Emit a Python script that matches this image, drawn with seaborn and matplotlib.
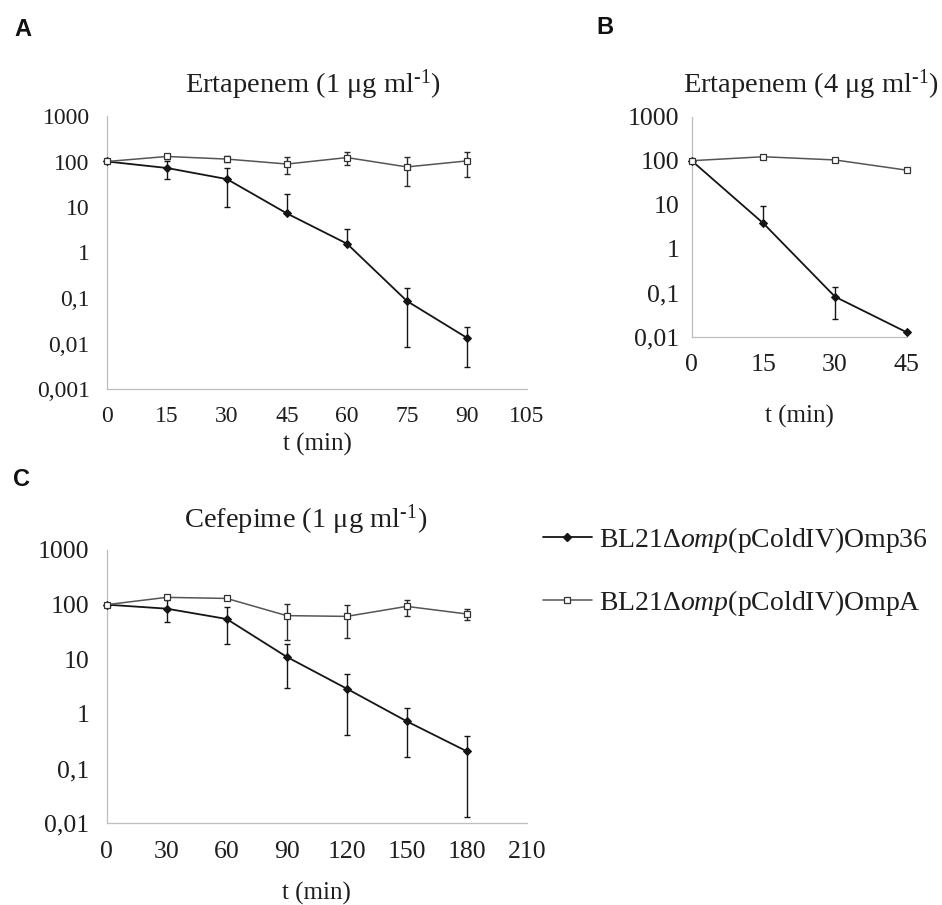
import numpy as np
import pandas as pd
import seaborn as sns
import matplotlib.pyplot as plt
from matplotlib.lines import Line2D
from matplotlib.ticker import NullLocator, FixedLocator, FixedFormatter

# ---- data: survival (%) over time, mean and standard deviation ----
t_a = [0, 15, 30, 45, 60, 75, 90]
a_omp36 = [100, 72, 41, 7.2, 1.56, 0.0855, 0.0133]
a_omp36_sd = [0, 30, 31, 12, 1.8, 0.077, 0.0102]
a_ompa = [100, 129, 113, 88, 122, 76, 103]
a_ompa_sd = [0, 18, 17, 35, 37, 47, 57]

t_b = [0, 15, 30, 45]
b_omp36 = [100, 3.77, 0.081, 0.0126]
b_omp36_sd = [0, 5.5, 0.056, 0]
b_ompa = [100, 123, 104, 61]
b_ompa_sd = [0, 0, 0, 0]

t_c = [0, 30, 60, 90, 120, 150, 180]
c_omp36 = [100, 84.5, 54.7, 11.1, 2.91, 0.736, 0.208]
c_omp36_sd = [0, 37, 36, 8.1, 2.5, 0.57, 0.195]
c_ompa = [100, 136, 130, 63, 61, 93, 67.6]
c_ompa_sd = [0, 8, 6, 40, 36, 30, 15]

y_ticks = [0.001, 0.01, 0.1, 1, 10, 100, 1000]
y_tick_labels = ["0,001", "0,01", "0,1", "1", "10", "100", "1000"]

titles = [r"Ertapenem (1 μg ml$^{\text{-}1}$)", r"Ertapenem (4 μg ml$^{\text{-}1}$)",
          r"Cefepime (1 μg ml$^{\text{-}1}$)"]
xlabel = "t (min)"
legend_labels = ["BL21$\\mathit{Δomp}$(pColdIV)Omp36",
                 "BL21$\\mathit{Δomp}$(pColdIV)OmpA"]

# ---- style ----
sns.set_theme(style="white")
plt.rcParams["font.family"] = ["Liberation Serif", "DejaVu Serif"]
plt.rcParams["mathtext.fontset"] = "custom"
plt.rcParams["mathtext.rm"] = "Liberation Serif"
plt.rcParams["mathtext.it"] = "Liberation Serif:italic"
plt.rcParams["mathtext.bf"] = "Liberation Serif:bold"

TEXT = "#1e1e1e"
AXIS = "#bdbdbd"
C36 = "#151515"
CA = "#555555"

W, H = 942, 905
fig = plt.figure(figsize=(W / 100, H / 100), dpi=100)


def px_axes(x0, x1, y_top, y_bot):
    return fig.add_axes([x0 / W, 1 - y_bot / H, (x1 - x0) / W, (y_bot - y_top) / H])


def add_err(ax, t, m, s, color):
    t, m, s = np.asarray(t, float), np.asarray(m, float), np.asarray(s, float)
    has = s > 0
    low_ok = has & (m - s > 0)
    lo = np.where(low_ok, s, 0.0)
    ax.errorbar(t[has], m[has], yerr=[lo[has], s[has]], fmt="none",
                ecolor=color, elinewidth=1.0, capsize=0, zorder=2, clip_on=False)
    ax.plot(t[has], (m + s)[has], ls="none", marker="_", ms=5, mew=1.0,
            color=color, zorder=2, clip_on=False)
    ax.plot(t[low_ok], (m - s)[low_ok], ls="none", marker="_", ms=5, mew=1.0,
            color=color, zorder=2, clip_on=False)


def panel(ax, t, m36, s36, ma, sa, xmax, xstep, ymin, fs, pad):
    add_err(ax, t, m36, s36, C36)
    add_err(ax, t, ma, sa, "#2a2a2a")
    sns.lineplot(x=t, y=m36, ax=ax, color=C36, linewidth=1.3, marker="D",
                 markersize=3.6, markeredgecolor=C36, markerfacecolor=C36,
                 errorbar=None, clip_on=False, zorder=3)
    sns.lineplot(x=t, y=ma, ax=ax, color=CA, linewidth=1.1, marker="s",
                 markersize=4.6, markeredgecolor="#333333", markerfacecolor="white",
                 markeredgewidth=0.9, errorbar=None, clip_on=False, zorder=4)
    ax.set_yscale("log")
    ax.set_ylim(ymin, 1000)
    ax.set_xlim(0, xmax)
    ax.set_xticks(np.arange(0, xmax + 1, xstep))
    keep = [i for i, v in enumerate(y_ticks) if v >= ymin]
    ax.yaxis.set_major_locator(FixedLocator([y_ticks[i] for i in keep]))
    ax.yaxis.set_major_formatter(FixedFormatter([y_tick_labels[i] for i in keep]))
    ax.yaxis.set_minor_locator(NullLocator())
    ax.set_xlabel("")
    ax.set_ylabel("")
    for side in ("top", "right"):
        ax.spines[side].set_visible(False)
    for side in ("left", "bottom"):
        ax.spines[side].set_color(AXIS)
        ax.spines[side].set_linewidth(0.9)
    ax.tick_params(axis="both", which="major", direction="out", length=4.5,
                   width=0.9, color=AXIS, labelsize=fs, labelcolor=TEXT, pad=pad)
    ax.set_facecolor("none")


# Panel A
ax_a = px_axes(107, 527, 116, 389)
panel(ax_a, t_a, a_omp36, a_omp36_sd, a_ompa, a_ompa_sd, 105, 15, 0.001, 17, 8)
ax_a.set_xlabel(xlabel, fontsize=18, color=TEXT)
ax_a.xaxis.set_label_coords(0.5, (389 - 444) / 273)
ax_a.xaxis.label.set_va("center")

# Panel B
ax_b = px_axes(691.7, 906.7, 116.7, 336.7)
panel(ax_b, t_b, b_omp36, b_omp36_sd, b_ompa, b_ompa_sd, 45, 15, 0.01, 18.6, 4.5)
ax_b.tick_params(axis="x", pad=8)
ax_b.set_xlabel(xlabel, fontsize=18, color=TEXT)
ax_b.xaxis.set_label_coords(0.5, (336.7 - 416) / 220)
ax_b.xaxis.label.set_va("center")

# Panel C
ax_c = px_axes(106.7, 526.7, 550, 823.3)
panel(ax_c, t_c, c_omp36, c_omp36_sd, c_ompa, c_ompa_sd, 210, 30, 0.01, 18.5, 8)
ax_c.set_xlabel(xlabel, fontsize=18, color=TEXT)
ax_c.xaxis.set_label_coords(0.5, (823.3 - 893) / 273.3)
ax_c.xaxis.label.set_va("center")

# Panel titles
for (cx, cy), title in zip([(313, 85), (811, 85), (306, 520)], titles):
    fig.text(cx / W, 1 - cy / H, title, ha="center", va="center",
             fontsize=20.5, color=TEXT)

# Panel letters
for (cx, cy), letter in zip([(23, 29), (605, 28), (22, 479)], ["A", "B", "C"]):
    fig.text(cx / W, 1 - cy / H, letter, ha="center", va="center",
             fontsize=17, fontweight="bold", family="Liberation Sans", color="#111111")

# Shared legend
handles = [
    Line2D([], [], color=C36, linewidth=1.3, marker="D", markersize=3.6,
           markerfacecolor=C36, markeredgecolor=C36),
    Line2D([], [], color=CA, linewidth=1.1, marker="s", markersize=4.6,
           markerfacecolor="white", markeredgecolor="#333333", markeredgewidth=0.9),
]
leg = fig.legend(handles, legend_labels, loc="center left",
                 bbox_to_anchor=(543 / W, 1 - 571.5 / H), frameon=False,
                 fontsize=20, handlelength=1.75, handletextpad=0.25,
                 labelspacing=1.2, borderpad=0, borderaxespad=0)
for txt in leg.get_texts():
    txt.set_color(TEXT)

fig.savefig("out.png", dpi=100)
